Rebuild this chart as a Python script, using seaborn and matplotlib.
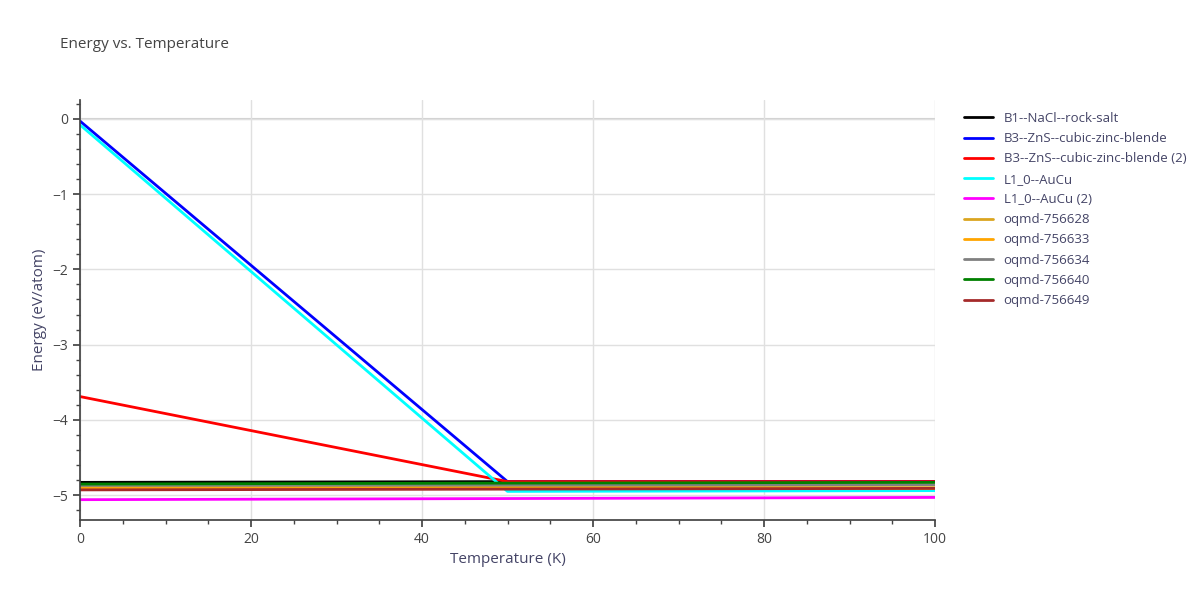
import numpy as np
import matplotlib
matplotlib.use("Agg")
import matplotlib.pyplot as plt
import seaborn as sns
import pandas as pd

temps = [0, 50, 100]
series = {
    "B1--NaCl--rock-salt": ([0, 50, 100], [-4.83, -4.82, -4.82], "black"),
    "B3--ZnS--cubic-zinc-blende": ([0, 50, 100], [-0.03, -4.82, -4.82], "blue"),
    "B3--ZnS--cubic-zinc-blende (2)": ([0, 50, 100], [-3.69, -4.82, -4.82], "red"),
    "L1_0--AuCu": ([0, 50, 100], [-0.08, -4.95, -4.94], "cyan"),
    "L1_0--AuCu (2)": ([0, 50, 100], [-5.06, -5.045, -5.03], "magenta"),
    "oqmd-756628": ([0, 50, 100], [-4.89, -4.895, -4.90], "#DAA520"),
    "oqmd-756633": ([0, 50, 100], [-4.90, -4.90, -4.90], "orange"),
    "oqmd-756634": ([0, 50, 100], [-4.87, -4.865, -4.86], "gray"),
    "oqmd-756640": ([0, 50, 100], [-4.853, -4.84, -4.83], "green"),
    "oqmd-756649": ([0, 50, 100], [-4.93, -4.92, -4.91], "brown"),
}

sns.set_theme(style="white")
plt.rcParams["font.family"] = ["Open Sans", "DejaVu Sans"]
fig = plt.figure(figsize=(12, 6), dpi=100)
ax = fig.add_axes([80 / 1200, 80 / 600, 855 / 1200, 420 / 600])

ax.axhline(0, color="#d0d0d0", lw=1.5, zorder=0)
for name, (x, y, c) in series.items():
    df = pd.DataFrame({"T": x, "E": y})
    sns.lineplot(data=df, x="T", y="E", color=c, lw=2, ax=ax, label=name)

ax.set_xlim(0, 100)
ax.set_ylim(-5.33, 0.25)
ax.set_xticks([0, 20, 40, 60, 80, 100])
ax.set_yticks([0, -1, -2, -3, -4, -5])
ax.set_yticklabels(["0", "−1", "−2", "−3", "−4", "−5"])
ax.grid(True, color="#e0e0e0", lw=1)
for s in ["top", "right"]:
    ax.spines[s].set_visible(False)
ax.spines["bottom"].set_color("#444444")
ax.spines["left"].set_color("#444444")
ax.set_xticks(np.arange(0, 101, 5), minor=True)
ax.set_yticks(np.arange(-5.2, 0.21, 0.2), minor=True)
ax.tick_params(axis="both", which="both", direction="out", colors="#444444",
               left=True, bottom=True, labelsize=10)
ax.tick_params(which="major", length=5)
ax.tick_params(which="minor", length=3)
ax.set_xlabel("Temperature (K)", color="#444466", fontsize=11)
ax.set_ylabel("Energy (eV/atom)", color="#444466", fontsize=11)
fig.text(60 / 1200, 1 - 45 / 600, "Energy vs. Temperature", fontsize=11,
         color="#444444", va="center")
leg = ax.legend(loc="upper left", bbox_to_anchor=(1.02, 1.0), frameon=False,
                fontsize=9.5, handlelength=2.2, labelspacing=0.55)
for t in leg.get_texts():
    t.set_color("#444466")
fig.savefig("out.png", dpi=100)
